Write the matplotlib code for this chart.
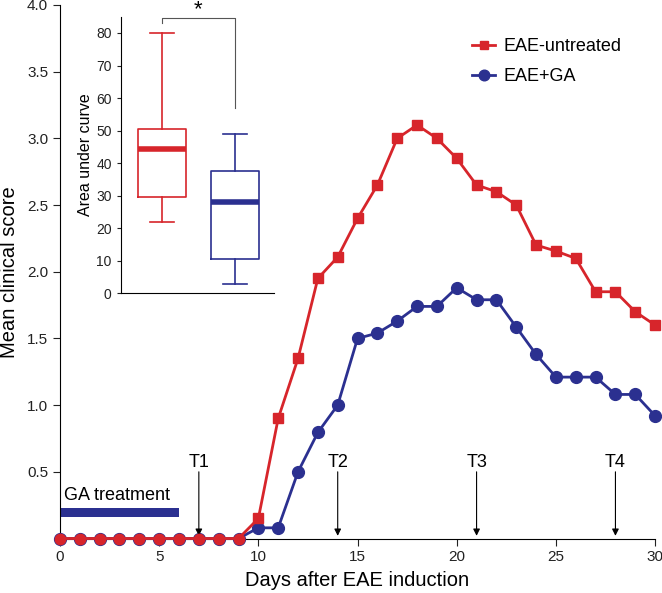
import matplotlib.pyplot as plt
import numpy as np

plt.rcParams['font.family'] = ['Liberation Sans', 'DejaVu Sans']

# Data
days = list(range(31))
untreated = [0, 0, 0, 0, 0, 0, 0, 0, 0, 0,
             0.15, 0.90, 1.35, 1.95, 2.11, 2.40, 2.65, 3.00, 3.10, 3.00,
             2.85, 2.65, 2.60, 2.50, 2.20, 2.155, 2.10, 1.85, 1.85, 1.70, 1.60]
ga = [0, 0, 0, 0, 0, 0, 0, 0, 0, 0,
      0.08, 0.08, 0.50, 0.795, 1.00, 1.50, 1.54, 1.63, 1.74, 1.74,
      1.88, 1.79, 1.79, 1.585, 1.38, 1.21, 1.21, 1.21, 1.08, 1.08, 0.92]
timepoints = [7, 14, 21, 28]
timepoint_labels = ['T1', 'T2', 'T3', 'T4']
ga_start, ga_end = 0, 6

# inset box stats: whislo, q1, med, q3, whishi
box_labels = ['EAE-untreated', 'EAE+GA']
box_whislo = [22, 3]
box_q1 = [29.5, 10.5]
box_med = [44.5, 28]
box_q3 = [50.5, 37.5]
box_whishi = [80, 49]

red = '#d7252b'
blue = '#2b3090'

fig = plt.figure(figsize=(6.62, 5.93), dpi=100)
ax = fig.add_axes([0.0906, 0.0919, 0.899, 0.8997])

ax.plot(days, ga, color=blue, lw=2, marker='o', ms=8.5, clip_on=False,
        label='EAE+GA', zorder=3)
ax.plot(days, untreated, color=red, lw=2, marker='s', ms=6.5,
        markevery=list(range(10, 31)), clip_on=False, label='EAE-untreated', zorder=4)
ax.plot(days[:10], untreated[:10], ls='none', marker='o', ms=7.5, color=red,
        clip_on=False, zorder=5)

# GA treatment bar
ax.fill_between([ga_start, ga_end], 0.163, 0.23, color=blue, lw=0)
ax.text(0.2, 0.29, 'GA treatment', fontsize=13, ha='left', va='baseline')

for t, lab in zip(timepoints, timepoint_labels):
    ax.annotate('', xy=(t, 0.02), xytext=(t, 0.5),
                arrowprops=dict(arrowstyle='-|>', color='black', lw=0.8,
                                mutation_scale=10, shrinkA=0, shrinkB=0))
    ax.text(t, 0.535, lab, fontsize=13, ha='center', va='baseline')

ax.set_xlim(0, 30)
ax.set_ylim(0, 4)
ax.set_xticks([0, 5, 10, 15, 20, 25, 30])
ax.set_yticks([0.5, 1.0, 1.5, 2.0, 2.5, 3.0, 3.5, 4.0])
ax.set_yticklabels(['0.5', '1.0', '1.5', '2.0', '2.5', '3.0', '3.5', '4.0'])
ax.tick_params(labelsize=11, direction='out', length=5, width=0.8, colors='#222222')
for s in ['top', 'right']:
    ax.spines[s].set_visible(False)
for s in ['left', 'bottom']:
    ax.spines[s].set_linewidth(0.8)
ax.set_xlabel('Days after EAE induction', fontsize=14.5, labelpad=5)
ax.set_ylabel('Mean clinical score', fontsize=14.5, labelpad=6)

handles, labels = ax.get_legend_handles_labels()
leg = ax.legend(handles[::-1], labels[::-1], loc='upper left', frameon=False,
                bbox_to_anchor=(472 / 662, 1 - 38 / 593), bbox_transform=fig.transFigure,
                fontsize=13, handlelength=1.3, handletextpad=0.45, labelspacing=0.72,
                borderpad=0, borderaxespad=0, markerscale=0.9)

# inset box plot
ins = fig.add_axes([0.1823, 0.5054, 0.2316, 0.4664])
stats = []
for i in range(2):
    stats.append(dict(whislo=box_whislo[i], q1=box_q1[i], med=box_med[i],
                      q3=box_q3[i], whishi=box_whishi[i], label=box_labels[i]))
bp = ins.bxp(stats, positions=[1, 2], widths=0.65, showfliers=False, patch_artist=False)
for i, c in enumerate([red, blue]):
    bp['boxes'][i].set(color=c, lw=1.2)
    bp['medians'][i].set(color=c, lw=4)
    for w in bp['whiskers'][2 * i:2 * i + 2]:
        w.set(color=c, lw=1.2)
    for cp in bp['caps'][2 * i:2 * i + 2]:
        cp.set(color=c, lw=1.2)

ins.plot([1, 1, 2, 2], [83, 84.6, 84.6, 57], color='#555555', lw=0.8, clip_on=False)
ins.text(1.5, 87.2, '*', fontsize=16, ha='center', va='center')

ins.set_xlim(0.434, 2.534)
ins.set_ylim(0, 85)
ins.set_yticks(range(0, 81, 10))
ins.set_xticks([])
ins.tick_params(labelsize=10, direction='out', length=3, width=0.8, colors='#222222')
for s in ['top', 'right']:
    ins.spines[s].set_visible(False)
for s in ['left', 'bottom']:
    ins.spines[s].set_linewidth(0.8)
ins.set_ylabel('Area under curve', fontsize=11.5, labelpad=2)
ins.patch.set_alpha(0)

fig.savefig('out.png', dpi=100)
